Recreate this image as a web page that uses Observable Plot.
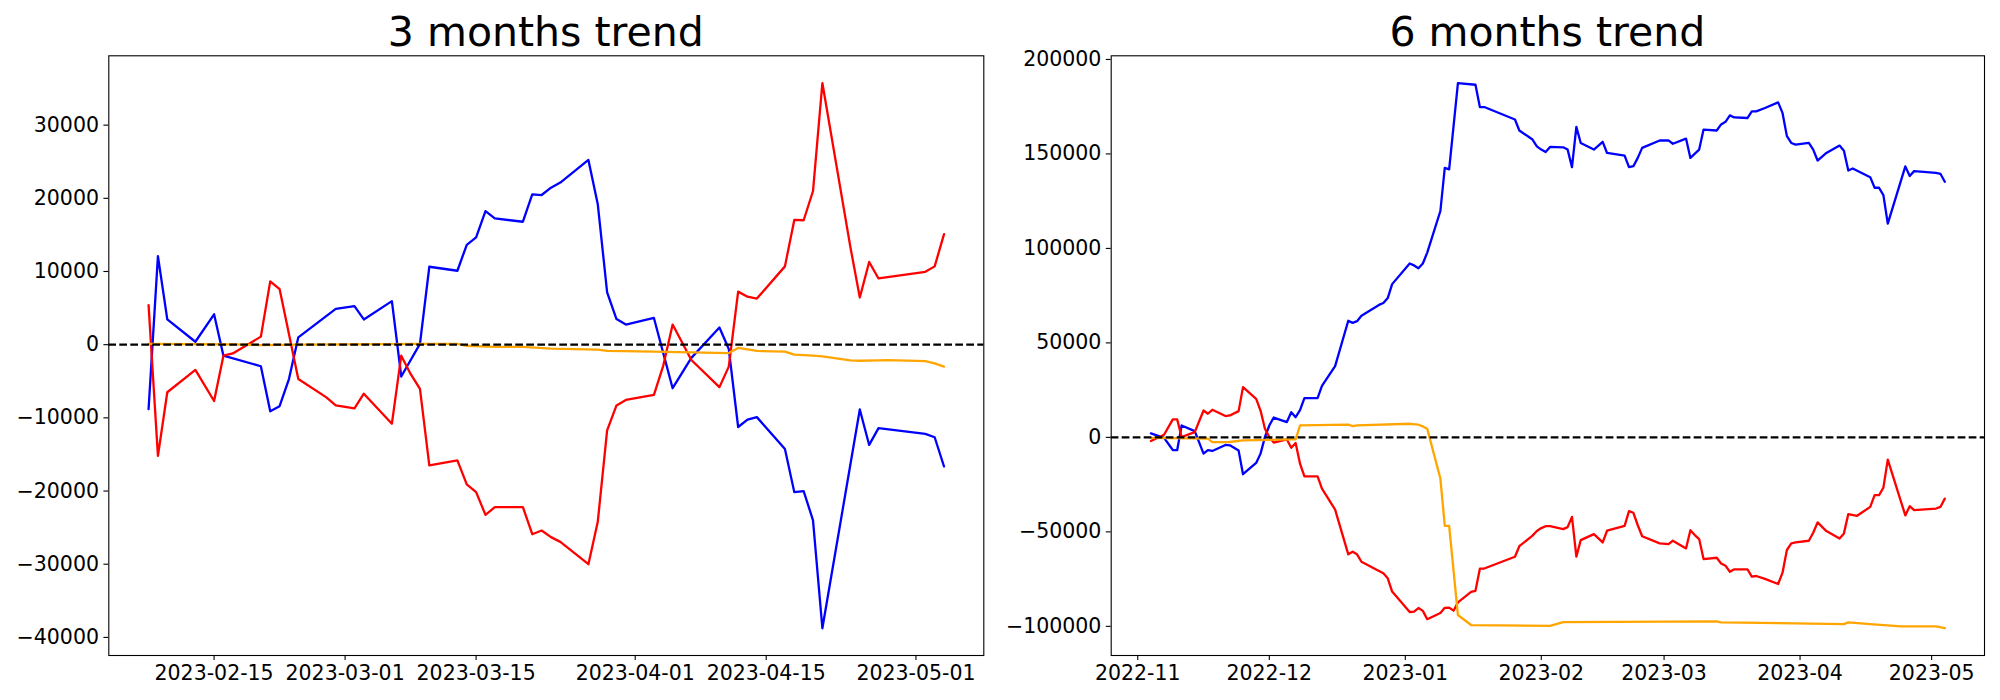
<!DOCTYPE html>
<html><head><meta charset="utf-8">
<script src="https://cdn.jsdelivr.net/npm/d3@7"></script>
<script src="https://cdn.jsdelivr.net/npm/@observablehq/plot@0.6"></script>
<style>
html,body{margin:0;padding:0;background:#fff;}
#fig{position:relative;width:2000px;height:700px;font-family:"DejaVu Sans",sans-serif;color:#000;}
.title{position:absolute;top:12px;width:1000px;font-size:41px;line-height:41px;text-align:center;white-space:nowrap;}
.panel{position:absolute;top:45px;}
</style></head><body><div id="fig"></div>
<script>
// ---------- 3 months panel ----------
const titles = ["3 months trend", "6 months trend"];

const leftBlueDates = ["2023-02-08","2023-02-09","2023-02-10","2023-02-13","2023-02-15","2023-02-16","2023-02-20","2023-02-21","2023-02-22","2023-02-23","2023-02-24","2023-02-28","2023-03-02","2023-03-03","2023-03-06","2023-03-07","2023-03-09","2023-03-10","2023-03-13","2023-03-14","2023-03-15","2023-03-16","2023-03-17","2023-03-20","2023-03-21","2023-03-22","2023-03-23","2023-03-24","2023-03-27","2023-03-28","2023-03-29","2023-03-30","2023-03-31","2023-04-03","2023-04-05","2023-04-07","2023-04-10","2023-04-11","2023-04-12","2023-04-13","2023-04-14","2023-04-17","2023-04-18","2023-04-19","2023-04-20","2023-04-21","2023-04-25","2023-04-26","2023-04-27","2023-05-02","2023-05-03","2023-05-04"];
const leftBlueValues = [-8800,12100,3450,400,4150,-1500,-2950,-9100,-8400,-4700,1000,4900,5270,3450,5950,-4350,100,10650,10100,13650,14650,18250,17250,16800,20550,20450,21450,22150,25250,19200,7150,3500,2750,3650,-5950,-1800,2350,-600,-11250,-10250,-9900,-14250,-20150,-20000,-24000,-38750,-8850,-13700,-11400,-12200,-12650,-16650];

const leftRedDates = ["2023-02-08","2023-02-09","2023-02-10","2023-02-13","2023-02-15","2023-02-16","2023-02-17","2023-02-20","2023-02-21","2023-02-22","2023-02-24","2023-02-27","2023-02-28","2023-03-02","2023-03-03","2023-03-06","2023-03-07","2023-03-08","2023-03-09","2023-03-10","2023-03-13","2023-03-14","2023-03-15","2023-03-16","2023-03-17","2023-03-20","2023-03-21","2023-03-22","2023-03-23","2023-03-24","2023-03-27","2023-03-28","2023-03-29","2023-03-30","2023-03-31","2023-04-03","2023-04-04","2023-04-05","2023-04-07","2023-04-10","2023-04-11","2023-04-12","2023-04-13","2023-04-14","2023-04-17","2023-04-18","2023-04-19","2023-04-20","2023-04-21","2023-04-24","2023-04-25","2023-04-26","2023-04-27","2023-05-02","2023-05-03","2023-05-04"];
const leftRedValues = [5400,-15200,-6500,-3450,-7700,-1500,-1200,1100,8650,7600,-4700,-7200,-8300,-8700,-6700,-10800,-1500,-4000,-6050,-16500,-15800,-19100,-20150,-23250,-22200,-22200,-25900,-25400,-26300,-26950,-30000,-24200,-11700,-8300,-7550,-6850,-2850,2750,-2100,-5800,-3000,7250,6550,6300,10700,17050,17000,21000,35750,13300,6450,11300,9050,9950,10700,15100];

const leftOrangeDates = ["2023-02-08","2023-02-17","2023-02-20","2023-02-24","2023-03-09","2023-03-13","2023-03-14","2023-03-17","2023-03-20","2023-03-23","2023-03-28","2023-03-29","2023-04-03","2023-04-11","2023-04-12","2023-04-14","2023-04-17","2023-04-18","2023-04-20","2023-04-21","2023-04-24","2023-04-25","2023-04-27","2023-04-28","2023-05-02","2023-05-03","2023-05-04"];
const leftOrangeValues = [100,50,-50,0,100,100,-150,-300,-300,-550,-680,-850,-950,-1150,-450,-850,-950,-1350,-1500,-1600,-2150,-2200,-2150,-2100,-2250,-2550,-3000];

const leftXTicks = ["2023-02-15","2023-03-01","2023-03-15","2023-04-01","2023-04-15","2023-05-01"];
const leftYTicks = [-40000,-30000,-20000,-10000,0,10000,20000,30000];

// ---------- 6 months panel ----------
const rightBlueDates = ["2022-11-04","2022-11-07","2022-11-09","2022-11-10","2022-11-11","2022-11-14","2022-11-16","2022-11-17","2022-11-18","2022-11-21","2022-11-22","2022-11-24","2022-11-25","2022-11-28","2022-11-29","2022-11-30","2022-12-01","2022-12-02","2022-12-05","2022-12-06","2022-12-07","2022-12-08","2022-12-09","2022-12-12","2022-12-13","2022-12-16","2022-12-19","2022-12-20","2022-12-21","2022-12-22","2022-12-26","2022-12-27","2022-12-28","2022-12-29","2023-01-02","2023-01-03","2023-01-04","2023-01-05","2023-01-06","2023-01-09","2023-01-10","2023-01-11","2023-01-13","2023-01-17","2023-01-18","2023-01-19","2023-01-26","2023-01-27","2023-01-30","2023-01-31","2023-02-01","2023-02-02","2023-02-03","2023-02-06","2023-02-07","2023-02-08","2023-02-09","2023-02-10","2023-02-13","2023-02-15","2023-02-16","2023-02-20","2023-02-21","2023-02-22","2023-02-23","2023-02-24","2023-02-28","2023-03-02","2023-03-03","2023-03-06","2023-03-07","2023-03-09","2023-03-10","2023-03-13","2023-03-14","2023-03-15","2023-03-16","2023-03-17","2023-03-20","2023-03-21","2023-03-22","2023-03-24","2023-03-27","2023-03-28","2023-03-29","2023-03-30","2023-03-31","2023-04-03","2023-04-04","2023-04-05","2023-04-07","2023-04-10","2023-04-11","2023-04-12","2023-04-13","2023-04-17","2023-04-18","2023-04-19","2023-04-20","2023-04-21","2023-04-25","2023-04-26","2023-04-27","2023-05-02","2023-05-03","2023-05-04"];
const rightBlueValues = [2100,-300,-6700,-6700,6300,3300,-8600,-6700,-7200,-4000,-4200,-7000,-19500,-13500,-8600,200,6300,10500,8100,13300,10700,14400,20800,20800,27300,37700,61700,60600,61500,64400,70100,71100,73700,81100,92000,91000,89500,92000,97800,119800,142600,141800,187500,186600,174800,174800,168200,162400,157600,154000,152300,151000,153700,153500,152300,143000,164300,155800,152300,156400,150500,149100,143000,143500,147900,153200,157100,157200,155400,158100,147900,152300,162900,162400,165600,167000,170400,169300,169000,172500,172500,174300,177300,171700,159400,155800,154900,155800,152300,146500,150500,154400,151700,141200,142300,137700,132100,132100,128200,113100,143400,138300,140900,140000,139500,135300];

const rightRedDates = ["2022-11-04","2022-11-07","2022-11-09","2022-11-10","2022-11-11","2022-11-14","2022-11-16","2022-11-17","2022-11-18","2022-11-21","2022-11-22","2022-11-24","2022-11-25","2022-11-28","2022-11-29","2022-11-30","2022-12-01","2022-12-02","2022-12-05","2022-12-06","2022-12-07","2022-12-08","2022-12-09","2022-12-12","2022-12-13","2022-12-16","2022-12-19","2022-12-20","2022-12-21","2022-12-22","2022-12-26","2022-12-27","2022-12-28","2022-12-29","2023-01-02","2023-01-03","2023-01-04","2023-01-05","2023-01-06","2023-01-09","2023-01-10","2023-01-11","2023-01-12","2023-01-13","2023-01-16","2023-01-17","2023-01-18","2023-01-19","2023-01-26","2023-01-27","2023-01-30","2023-01-31","2023-02-01","2023-02-02","2023-02-03","2023-02-06","2023-02-07","2023-02-08","2023-02-09","2023-02-10","2023-02-13","2023-02-15","2023-02-16","2023-02-20","2023-02-21","2023-02-22","2023-02-23","2023-02-24","2023-02-28","2023-03-02","2023-03-03","2023-03-06","2023-03-07","2023-03-08","2023-03-09","2023-03-10","2023-03-13","2023-03-14","2023-03-15","2023-03-16","2023-03-17","2023-03-20","2023-03-21","2023-03-22","2023-03-24","2023-03-27","2023-03-28","2023-03-29","2023-03-30","2023-03-31","2023-04-03","2023-04-04","2023-04-05","2023-04-07","2023-04-10","2023-04-11","2023-04-12","2023-04-14","2023-04-17","2023-04-18","2023-04-19","2023-04-20","2023-04-21","2023-04-25","2023-04-26","2023-04-27","2023-05-02","2023-05-03","2023-05-04"];
const rightRedValues = [-1900,1400,9500,9500,200,2800,14200,12500,14600,11300,11600,13900,26600,20400,14200,4600,200,-2800,-1100,-5500,-3000,-13900,-20600,-20600,-27100,-38200,-61900,-60500,-61900,-65800,-70700,-71900,-74600,-81600,-92400,-92200,-90300,-91800,-96200,-92900,-90200,-90100,-91700,-87300,-81800,-81200,-69500,-69400,-63150,-57600,-52000,-49500,-48000,-47000,-47000,-48550,-47500,-42050,-63150,-54350,-51200,-55600,-49400,-46800,-39050,-39900,-46500,-52300,-56100,-56500,-54700,-58750,-49100,-51700,-53800,-64400,-63700,-66700,-67900,-71100,-69800,-69800,-73700,-73350,-74900,-77600,-71600,-59600,-56100,-55600,-54700,-50500,-45000,-49600,-53500,-50800,-40600,-41500,-36800,-30600,-30600,-26600,-11800,-41300,-36400,-38500,-37650,-36800,-32400];

const rightOrangeDates = ["2022-11-04","2022-11-17","2022-11-18","2022-11-22","2022-11-25","2022-12-06","2022-12-07","2022-12-08","2022-12-19","2022-12-20","2022-12-21","2023-01-02","2023-01-04","2023-01-05","2023-01-06","2023-01-09","2023-01-10","2023-01-11","2023-01-13","2023-01-16","2023-02-03","2023-02-06","2023-03-13","2023-03-14","2023-04-11","2023-04-12","2023-04-17","2023-04-24","2023-05-02","2023-05-04"];
const rightOrangeValues = [-300,-700,-2500,-2450,-1600,-1050,-1100,6300,6700,6000,6300,7200,6700,5800,4600,-21800,-46800,-46800,-94000,-99300,-99700,-97800,-97400,-97900,-98800,-97900,-98800,-100000,-100000,-101000];

const rightXTicks = ["2022-11-01","2022-12-01","2023-01-01","2023-02-01","2023-03-01","2023-04-01","2023-05-01"];
const rightYTicks = [-100000,-50000,0,50000,100000,150000,200000];

const seriesColors = ["blue", "red", "orange"];

// ---------- helpers ----------
const rows = (dates, values) => dates.map((d, i) => ({date: new Date(d), value: values[i]}));
const padded = (lo, hi) => { const r = hi - lo; return [lo - 0.05 * r, hi + 0.05 * r]; };

function panel({series, xTicks, yTicks, xFormat, marginLeft, marginRight}) {
  const all = series.flat();
  const [x0, x1] = d3.extent(all, d => +d.date);
  const [y0, y1] = d3.extent(all, d => d.value);
  const axisStyle = {tickSize: 4.9, tickPadding: 4.9, fontSize: 20.5, strokeWidth: 1.1, label: null};
  return Plot.plot({
    width: 1000, height: 655,
    marginLeft, marginRight, marginTop: 10.3, marginBottom: 45,
    style: {fontFamily: "DejaVu Sans", background: "#fff", color: "#000", overflow: "visible"},
    x: {type: "utc", domain: padded(x0, x1).map(v => new Date(v))},
    y: {domain: padded(y0, y1)},
    marks: [
      ...series.map((s, i) => Plot.line(s, {x: "date", y: "value", stroke: seriesColors[i], strokeWidth: 2.3})),
      Plot.ruleY([0], {stroke: "#000", strokeWidth: 2.2, strokeDasharray: "7.7,3.3"}),
      Plot.axisX({...axisStyle, ticks: xTicks.map(d => new Date(d)), tickFormat: xFormat}),
      Plot.axisY({...axisStyle, ticks: yTicks, tickFormat: d3.format("d")}),
      Plot.frame({stroke: "#000", strokeWidth: 1.1})
    ]
  });
}

const fig = document.getElementById("fig");

const left = panel({
  series: [rows(leftBlueDates, leftBlueValues), rows(leftRedDates, leftRedValues), rows(leftOrangeDates, leftOrangeValues)],
  xTicks: leftXTicks, yTicks: leftYTicks, xFormat: d3.utcFormat("%Y-%m-%d"),
  marginLeft: 108.3, marginRight: 16.7
});
left.classList.add("panel"); left.style.left = "0px";

const right = panel({
  series: [rows(rightBlueDates, rightBlueValues), rows(rightRedDates, rightRedValues), rows(rightOrangeDates, rightOrangeValues)],
  xTicks: rightXTicks, yTicks: rightYTicks, xFormat: d3.utcFormat("%Y-%m"),
  marginLeft: 110.7, marginRight: 16
});
right.classList.add("panel"); right.style.left = "1000px";

fig.appendChild(left);
fig.appendChild(right);

[545.8, 1547.35].forEach((cx, i) => {
  const t = document.createElement("div");
  t.className = "title";
  t.style.left = (cx - 500) + "px";
  t.textContent = titles[i];
  fig.appendChild(t);
});
</script></body></html>
